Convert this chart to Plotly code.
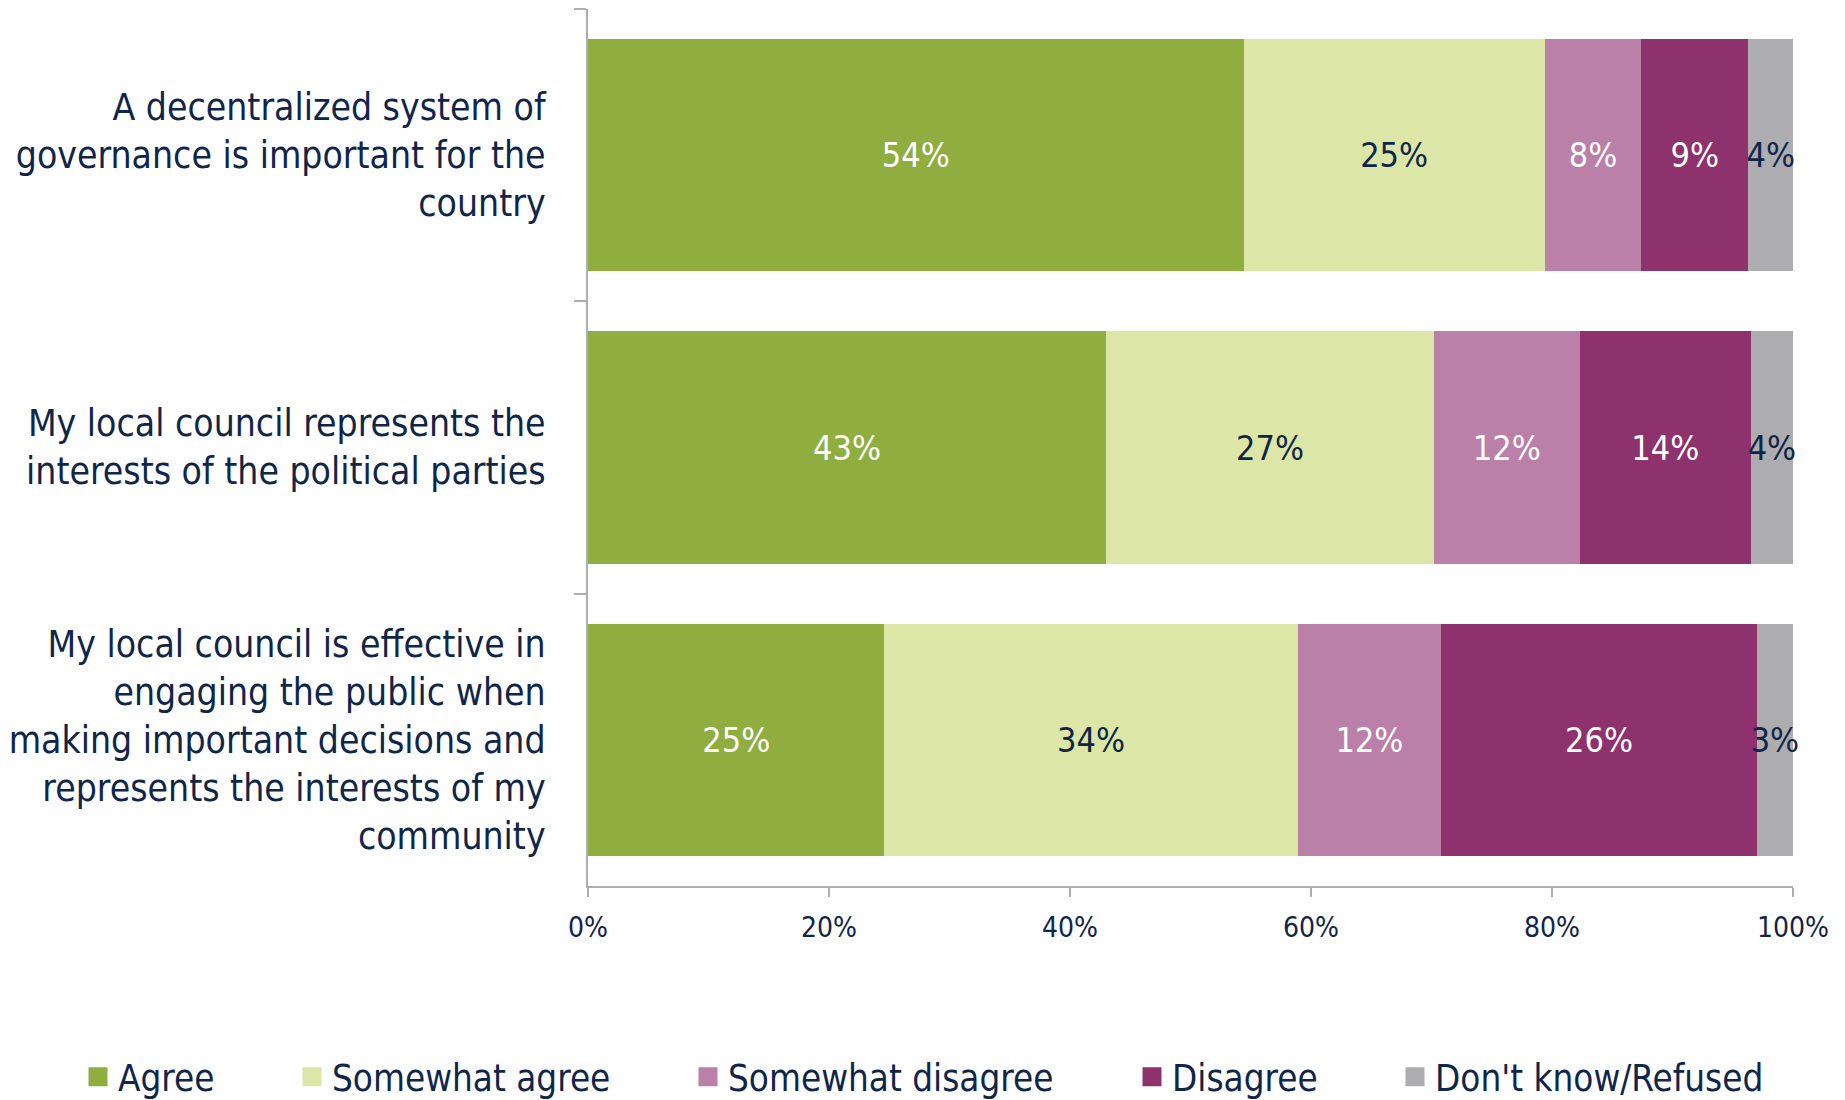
import plotly.graph_objects as go

categories = [
    "A decentralized system of<br>governance is important for the<br>country",
    "My local council represents the<br>interests of the political parties",
    "My local council is effective in<br>engaging the public when<br>making important decisions and<br>represents the interests of my<br>community",
]
series_names = ["Agree", "Somewhat agree", "Somewhat disagree", "Disagree", "Don't know/Refused"]
agree = [54.4, 43.0, 24.6]
somewhat_agree = [25.0, 27.2, 34.3]
somewhat_disagree = [8.0, 12.1, 11.9]
disagree = [8.9, 14.2, 26.2]
dont_know = [3.7, 3.5, 3.0]
x_ticks = [0, 20, 40, 60, 80, 100]
x_tick_labels = ["0%", "20%", "40%", "60%", "80%", "100%"]

values = [agree, somewhat_agree, somewhat_disagree, disagree, dont_know]
colors = ["#8FAE3F", "#DCE7A7", "#BA80A8", "#8E326E", "#ADADAF"]
text_colors = ["white", "#10254A", "white", "white", "#10254A"]
legend_x_px = [70, 284, 680, 1124, 1387]

FONT = "DejaVu Sans Condensed, DejaVu Sans, sans-serif"
NAVY = "#10254A"
GRID = "#AEAEB0"
W, H = 1845, 1100

fig = go.Figure()
for name, vals, col, tc in zip(series_names, values, colors, text_colors):
    fig.add_trace(go.Bar(
        y=categories, x=vals, name=name, orientation="h",
        marker=dict(color=col, line=dict(width=0)),
        texttemplate="%{x:.0f}%", textposition="inside",
        insidetextanchor="middle", textangle=0, constraintext="none",
        textfont=dict(family=FONT, size=34, color=tc),
        cliponaxis=False, showlegend=False, hoverinfo="skip",
    ))

for i, (name, col) in enumerate(zip(series_names, colors)):
    lg = "legend" if i == 0 else f"legend{i+1}"
    fig.add_trace(go.Scatter(
        x=[None], y=[None], mode="markers", name=name,
        marker=dict(symbol="square", size=16, color=col, line=dict(color=col, width=3)),
        legend=lg, showlegend=True,
    ))

layout_legends = {}
for i, px in enumerate(legend_x_px):
    key = "legend" if i == 0 else f"legend{i+1}"
    layout_legends[key] = dict(
        xref="container", yref="container", x=px / W, y=1 - 1069 / H,
        xanchor="left", yanchor="middle", orientation="h",
        font=dict(family=FONT, size=36.5, color=NAVY),
        bgcolor="rgba(0,0,0,0)", borderwidth=0,
    )

fig.update_layout(
    width=W, height=H, barmode="stack", bargap=0.206,
    plot_bgcolor="white", paper_bgcolor="white",
    margin=dict(l=578, r=60, t=1, b=222, pad=0),
    font=dict(family=FONT, color=NAVY),
    **layout_legends,
)
fig.update_xaxes(
    range=[0, 100.001], tickvals=x_ticks, ticktext=x_tick_labels,
    showgrid=False, zeroline=False, showline=True, linecolor=GRID, linewidth=2,
    ticks="outside", ticklen=9, tickwidth=2, tickcolor=GRID,
    tickfont=dict(family=FONT, size=28, color=NAVY), ticklabelstandoff=6,
)
fig.update_yaxes(
    autorange="reversed", type="category",
    showgrid=False, zeroline=False, showline=True, linecolor=GRID, linewidth=2,
    ticks="outside", ticklen=12, tickwidth=2, tickcolor=GRID, tickson="boundaries",
    tickfont=dict(family=FONT, size=37, color=NAVY), ticklabelstandoff=33,
)

fig.write_html("out.html")
